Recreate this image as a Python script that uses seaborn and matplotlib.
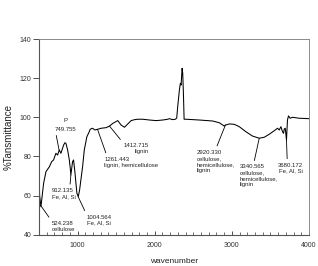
import matplotlib
matplotlib.use("Agg")
import matplotlib.pyplot as plt
from matplotlib.ticker import MultipleLocator
import seaborn as sns
import pandas as pd

# ---- data ----
wavenumber = [500, 508, 525, 560, 590, 634, 664, 689, 719, 741, 763, 784, 819, 836,
              849, 871, 893, 905, 913, 935, 948, 965, 991, 1009, 1026, 1065, 1087,
              1120, 1151, 1164, 1194, 1224, 1263, 1307, 1371, 1414, 1457, 1521, 1565,
              1608, 1651, 1695, 1740, 1780, 1845, 1932, 2019, 2104, 2169, 2190, 2230,
              2268, 2285, 2298, 2320, 2333, 2342, 2355, 2363, 2372, 2381, 2407, 2579,
              2751, 2838, 2902, 2916, 2967, 3032, 3096, 3183, 3268, 3355, 3420, 3484,
              3549, 3592, 3614, 3636, 3657, 3670, 3679, 3692, 3708, 3721, 3734, 3756,
              3786, 3873, 3993, 4000]
transmittance = [72.5, 60.0, 54.3, 66.3, 72.2, 74.7, 77.3, 78.2, 81.6, 80.7, 83.3,
                 81.6, 85.8, 87.0, 86.7, 83.3, 78.2, 74.0, 70.5, 77.3, 78.2, 72.2,
                 61.2, 59.4, 62.8, 74.7, 83.3, 90.0, 92.6, 93.9, 94.4, 93.5, 93.9,
                 94.4, 94.7, 95.5, 96.9, 98.3, 96.0, 94.9, 96.6, 98.3, 98.8, 99.0,
                 99.0, 98.6, 98.3, 98.6, 99.0, 99.3, 98.8, 99.0, 99.6, 105.4, 114.0,
                 117.4, 116.5, 125.0, 122.5, 112.3, 99.0, 99.0, 98.6, 98.1, 97.2,
                 95.5, 96.0, 96.6, 96.4, 95.2, 92.6, 90.4, 89.3, 89.8, 91.3, 93.1,
                 94.4, 93.5, 95.2, 92.6, 91.8, 94.0, 94.4, 88.4, 98.6, 100.7, 99.5,
                 100.0, 99.5, 99.3, 99.3]

# annotations: label, target wavenumber, target transmittance
ann_labels = ["749.755", "912.135\nFe, Al, Si", "1004.564\nFe, Al, Si",
              "524.238\ncellulose", "1261.443\nlignin, hemicellulose",
              "1412.715\nlignin", "2920.330\ncellulose,\nhemicellulose,\nlignin",
              "3340.565\ncellulose,\nhemicellulose,\nlignin", "3680.172\nFe, Al, Si"]
ann_x = [760, 913, 1009, 517, 1259, 1414, 2916, 3355, 3708]
ann_y = [83.3, 70.5, 59.3, 55.2, 93.8, 95.5, 96.0, 89.3, 88.4]

x_ticks = [1000, 2000, 3000, 4000]
y_ticks = [40, 60, 80, 100, 120, 140]

df = pd.DataFrame({"wavenumber": wavenumber, "transmittance": transmittance})

sns.set_style("ticks")
plt.rcParams["font.family"] = ["Liberation Sans", "DejaVu Sans"]

fig = plt.figure(figsize=(3.18, 2.66), dpi=100)
ax = fig.add_axes([39 / 318, 1 - 234.7 / 266, 270 / 318, 195.7 / 266])

sns.lineplot(data=df, x="wavenumber", y="transmittance", sort=False,
             color="black", linewidth=0.75, ax=ax)

ax.set_xlim(500, 4000)
ax.set_ylim(40, 140)
ax.set_xticks(x_ticks)
ax.set_yticks(y_ticks)
ax.xaxis.set_minor_locator(MultipleLocator(100))
ax.tick_params(axis="x", which="major", direction="in", length=3, width=0.6,
               labelsize=5, pad=5, colors="#333333")
ax.tick_params(axis="x", which="minor", direction="in", length=2, width=0.5,
               colors="#333333")
ax.tick_params(axis="y", which="major", direction="out", length=4, width=0.6,
               labelsize=5, pad=1.5, colors="#333333")
for side in ["top", "right"]:
    ax.spines[side].set_visible(True)
    ax.spines[side].set_color("#8a8a8a")
    ax.spines[side].set_linewidth(0.7)
for side in ["left", "bottom"]:
    ax.spines[side].set_color("#555555")
    ax.spines[side].set_linewidth(0.8)

ax.set_xlabel("wavenumber", fontsize=6, color="#222222", labelpad=7)
ax.set_ylabel("%Tansmittance", fontsize=7, color="#222222", labelpad=4)

# text anchor positions (data units) and alignment
txt_pos = [(700, 94.0), (667, 61.0), (1116, 47.5), (664, 44.2), (1349, 77.0),
           (1595, 83.9), (2540, 77.5), (3097, 70.0), (3924, 74.0)]
txt_ha = ["left", "left", "left", "left", "left", "left", "left", "left", "right"]
txt_ma = ["left", "left", "left", "left", "left", "right", "left", "left", "right"]
relpos = [(0.05, 0.0), (0.75, 1.0), (0.0, 1.0), (0.0, 1.0), (0.05, 1.0),
          (0.0, 1.0), (0.5, 1.0), (0.37, 1.0), (0.37, 1.0)]

for lab, tx, ty, (px, py), ha, ma, rp in zip(ann_labels, ann_x, ann_y, txt_pos,
                                             txt_ha, txt_ma, relpos):
    ax.annotate(lab, xy=(tx, ty), xytext=(px, py), textcoords="data",
                ha=ha, va="center", multialignment=ma, fontsize=4.3,
                linespacing=1.25, color="#222222",
                arrowprops=dict(arrowstyle="-", color="black", lw=0.6,
                                relpos=rp, shrinkA=0.5, shrinkB=0))

ax.text(842, 98.6, "P", fontsize=4.3, color="#222222", ha="center", va="center")

fig.savefig("out.png", dpi=100)
